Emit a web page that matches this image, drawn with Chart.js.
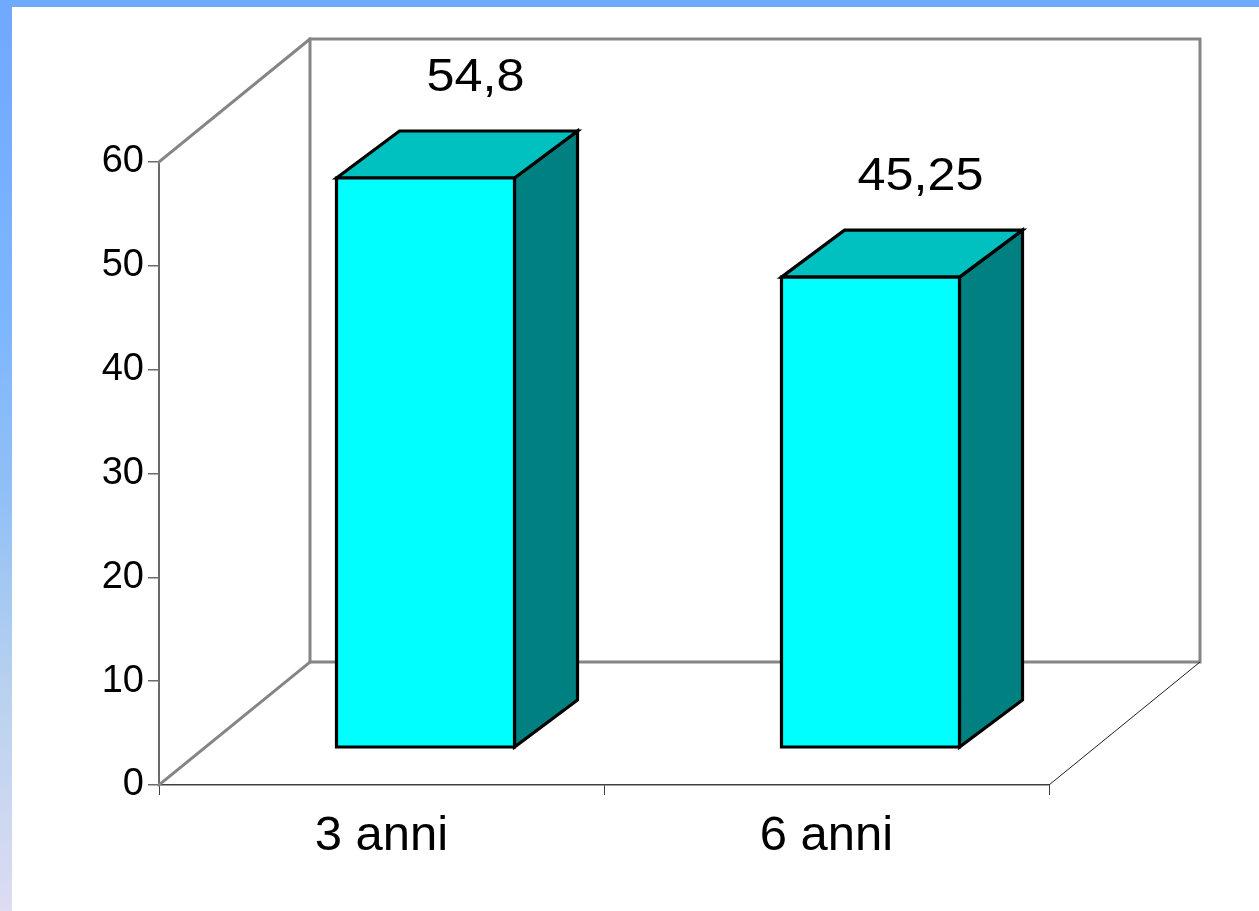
<!DOCTYPE html>
<html>
<head>
<meta charset="utf-8">
<title>Anni</title>
<script src="https://cdn.jsdelivr.net/npm/chart.js@4.4.1/dist/chart.umd.min.js"></script>
<style>
  html, body { margin: 0; padding: 0; background: #ffffff; }
  #wrap { width: 1259px; height: 911px; }
  canvas { display: block; }
</style>
</head>
<body>
<div id="wrap"><canvas id="chart" width="1259" height="911"></canvas></div>
<script>
// Data
const categories = ['3 anni', '6 anni'];
const values = [54.8, 45.25];
const valueLabels = ['54,8', '45,25'];
const yTickValues = [0, 10, 20, 30, 40, 50, 60];

// 3D look: offsets in pixels
const BOX_DEPTH = { dx: 151, dy: -123 };   // front plane -> back wall
const BAR_INSET = { dx: 44, dy: -38 };     // front plane -> bar front face
const BAR_DEPTH = { dx: 63, dy: -47 };     // bar front face -> bar back face

const FONT = '"Liberation Sans", Arial, Helvetica, sans-serif';

const frame3d = {
  id: 'frame3d',
  beforeDraw(chart) {
    const { ctx, width, height } = chart;
    ctx.save();
    ctx.fillStyle = '#ffffff';
    ctx.fillRect(0, 0, width, height);
    // left band with a vertical gradient
    const g = ctx.createLinearGradient(0, 0, 0, height);
    g.addColorStop(0.0, '#6fa8ff');
    g.addColorStop(0.35, '#7db6fd');
    g.addColorStop(0.55, '#92c0f6');
    g.addColorStop(0.75, '#b7d1ee');
    g.addColorStop(1.0, '#dcdcf2');
    ctx.fillStyle = g;
    ctx.fillRect(0, 0, 12, height);
    // top band
    ctx.fillStyle = '#70aaff';
    ctx.fillRect(0, 0, width, 7);
    ctx.restore();
  },
  beforeDatasetsDraw(chart) {
    const { ctx, chartArea: a } = chart;
    const bx = BOX_DEPTH.dx, by = BOX_DEPTH.dy;
    ctx.save();
    ctx.lineCap = 'square';
    ctx.strokeStyle = '#858585';
    ctx.lineWidth = 3;
    // back wall
    ctx.strokeRect(a.left + bx, a.top + by, a.right - a.left, a.bottom - a.top);
    // side wall edges
    ctx.beginPath();
    ctx.moveTo(a.left, a.top);
    ctx.lineTo(a.left + bx, a.top + by);
    ctx.moveTo(a.left, a.bottom);
    ctx.lineTo(a.left + bx, a.bottom + by);
    ctx.stroke();
    // right edge of the floor
    ctx.lineCap = 'butt';
    ctx.strokeStyle = '#202020';
    ctx.lineWidth = 1;
    ctx.beginPath();
    ctx.moveTo(a.right, a.bottom);
    ctx.lineTo(a.right + bx, a.bottom + by);
    ctx.stroke();
    ctx.restore();
  },
  afterDatasetsDraw(chart) {
    const { ctx } = chart;
    const yScale = chart.scales.y;
    const meta = chart.getDatasetMeta(0);
    ctx.save();
    ctx.lineJoin = 'miter';
    ctx.lineWidth = 3.2;
    ctx.strokeStyle = '#000000';
    meta.data.forEach((bar, i) => {
      const half = bar.width / 2;
      const l = bar.x - half + BAR_INSET.dx;
      const r = bar.x + half + BAR_INSET.dx;
      const t = yScale.getPixelForValue(values[i]) + BAR_INSET.dy;
      const b = yScale.getPixelForValue(0) + BAR_INSET.dy;
      const dx = BAR_DEPTH.dx, dy = BAR_DEPTH.dy;

      const poly = (pts, fill) => {
        ctx.beginPath();
        ctx.moveTo(pts[0][0], pts[0][1]);
        for (let k = 1; k < pts.length; k++) ctx.lineTo(pts[k][0], pts[k][1]);
        ctx.closePath();
        ctx.fillStyle = fill;
        ctx.fill();
        ctx.stroke();
      };
      // side face
      poly([[r, t], [r + dx, t + dy], [r + dx, b + dy], [r, b]], '#008080');
      // top face
      poly([[l, t], [l + dx, t + dy], [r + dx, t + dy], [r, t]], '#00c0c0');
      // front face
      poly([[l, t], [r, t], [r, b], [l, b]], '#00ffff');

      // value label above the bar (slightly wide lettering)
      const lx = bar.x + BAR_INSET.dx + 50;
      const ly = t + dy - 40;
      ctx.save();
      ctx.translate(lx, ly);
      ctx.scale(1.07, 1);
      ctx.fillStyle = '#000000';
      ctx.font = '47px ' + FONT;
      ctx.textAlign = 'center';
      ctx.textBaseline = 'alphabetic';
      ctx.fillText(valueLabels[i], 0, 0);
      ctx.restore();
    });
    ctx.restore();
  }
};

new Chart(document.getElementById('chart'), {
  type: 'bar',
  data: {
    labels: categories,
    datasets: [{
      data: values,
      backgroundColor: 'rgba(0,0,0,0)',
      borderWidth: 0,
      categoryPercentage: 1.0,
      barPercentage: 0.4
    }]
  },
  options: {
    responsive: false,
    animation: false,
    devicePixelRatio: 1,
    layout: { padding: { left: 0, right: 210, top: 162, bottom: 0 } },
    plugins: {
      legend: { display: false },
      tooltip: { enabled: false },
      title: { display: false }
    },
    scales: {
      x: {
        grid: { display: true, drawOnChartArea: false, offset: true, tickLength: 10, color: '#404040', lineWidth: 1 },
        border: { display: true, color: '#404040', width: 1.5 },
        ticks: { color: '#000000', font: { family: FONT, size: 49 }, padding: 12, maxRotation: 0 },
        afterFit(scale) { scale.height = 126; }
      },
      y: {
        min: 0,
        max: 60,
        afterBuildTicks(scale) { scale.ticks = yTickValues.map(v => ({ value: v })); },
        grid: { display: true, drawOnChartArea: false, tickLength: 11, color: '#6a6a6a', lineWidth: 1.5 },
        border: { display: true, color: '#6a6a6a', width: 2 },
        ticks: { color: '#000000', font: { family: FONT, size: 38 }, padding: 4 },
        afterFit(scale) { scale.width = 159; }
      }
    }
  },
  plugins: [frame3d]
});
</script>
</body>
</html>
